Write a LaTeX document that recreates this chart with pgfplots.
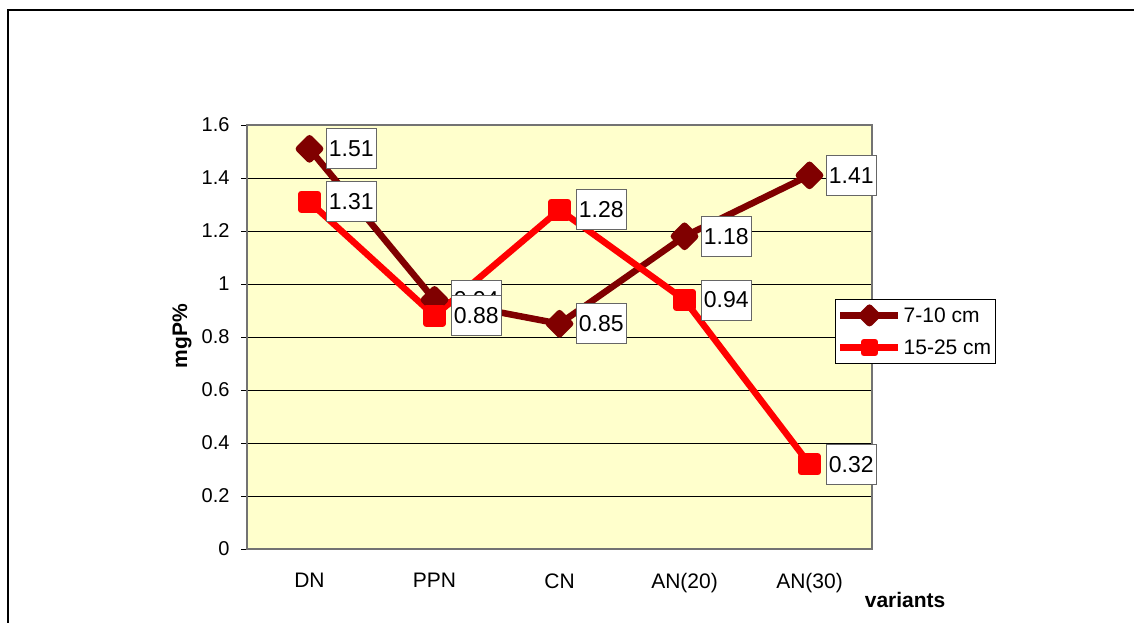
\documentclass[border=0pt]{standalone}
\usepackage{pgfplots}
\pgfplotsset{compat=1.18}
\usepackage{pgfplotstable}
\usepackage{fontspec}
\setmainfont{Liberation Sans}
\newfontfamily\arial{Liberation Sans}
\definecolor{darkred}{HTML}{800000}
\definecolor{plotbg}{HTML}{FFFFCC}

\pgfplotstableread{
x y
0 1.51
1 0.94
2 0.85
3 1.18
4 1.41
}\seriesA
\pgfplotstableread{
x y
0 1.31
1 0.88
2 1.28
3 0.94
4 0.32
}\seriesB

\begin{document}
\begin{tikzpicture}
\useasboundingbox (0pt,0pt) rectangle (1134pt,-623pt);
\fill[white] (0pt,0pt) rectangle (1134pt,-623pt);
\draw[line width=2pt] (8pt,-640pt) -- (8pt,-10pt) -- (1150pt,-10pt);
\begin{axis}[
  at={(247pt,-549pt)}, anchor=south west,
  scale only axis, width=625pt, height=424pt,
  xmin=-0.5, xmax=4.5, ymin=0, ymax=1.6,
  axis background/.style={fill=plotbg},
  axis line style={draw=black!55, line width=1.5pt},
  ytick={0,0.2,...,1.6},
  yticklabel style={font=\fontsize{20}{24}\selectfont\arial, xshift=-8pt},
  ymajorgrids, grid style={black, line width=0.8pt},
  xtick={0,1,2,3,4},
  xticklabels={DN,PPN,CN,AN(20),AN(30)},
  xticklabel style={font=\fontsize{21}{25}\selectfont\arial, yshift=-15pt},
  major x tick style={draw=none},
  extra x ticks={-0.5,0.5,1.5,2.5,3.5,4.5},
  extra x tick labels={},
  extra x tick style={grid=none, tick style={draw=black, line width=0.8pt}, major tick length=6pt, tick align=outside},
  major y tick style={draw=black, line width=0.8pt},
  tick align=outside, major tick length=6pt,
  xtick pos=bottom, ytick pos=left,
  /pgf/number format/assume math mode=true,
  xlabel={variants},
  xlabel style={at={(axis description cs:1.053,-0.12)}, anchor=center, font=\fontsize{21}{25}\selectfont\bfseries\arial},
  ylabel={mgP\%},
  ylabel style={at={(axis description cs:-0.104,0.502)}, anchor=center, rotate=0, font=\fontsize{21}{25}\selectfont\bfseries\arial},
  legend style={at={(axis description cs:1.198,0.590)}, anchor=north east, draw=black, line width=1pt, fill=white,
    font=\fontsize{21}{25}\selectfont\arial, inner xsep=2pt, inner ysep=6pt, row sep=12pt,
    legend cell align=left},
  legend image code/.code={\draw[#1, mark repeat=2, mark phase=2, mark size=5.5pt] plot coordinates {(0pt,0pt) (29pt,0pt) (58pt,0pt)};},
  clip=false,
]
\addplot[darkred, line width=6.5pt, line join=round, mark=square*, mark size=7.5pt, mark options={rotate=45, solid}] table[x=x,y=y] {\seriesA};
\addlegendentry{7-10 cm}
\addplot[red, line width=6.5pt, line join=round, mark=square*, mark size=8pt, mark options={solid}] table[x=x,y=y] {\seriesB};
\addlegendentry{15-25 cm}
\addplot[draw=none, mark=none, forget plot, point meta=explicit symbolic,
  nodes near coords, nodes near coords align={horizontal},
  every node near coord/.append style={anchor=west, xshift=16pt, fill=white, draw=black!60, line width=0.8pt,
    text=black, font=\fontsize{23}{27}\selectfont\arial, inner xsep=3pt, minimum height=40pt}]
  table[x=x,y=y,meta=y] {\seriesA};
\addplot[draw=none, mark=none, forget plot, point meta=explicit symbolic,
  nodes near coords, nodes near coords align={horizontal},
  every node near coord/.append style={anchor=west, xshift=16pt, fill=white, draw=black!60, line width=0.8pt,
    text=black, font=\fontsize{23}{27}\selectfont\arial, inner xsep=3pt, minimum height=40pt}]
  table[x=x,y=y,meta=y] {\seriesB};
\end{axis}
\end{tikzpicture}
\end{document}
